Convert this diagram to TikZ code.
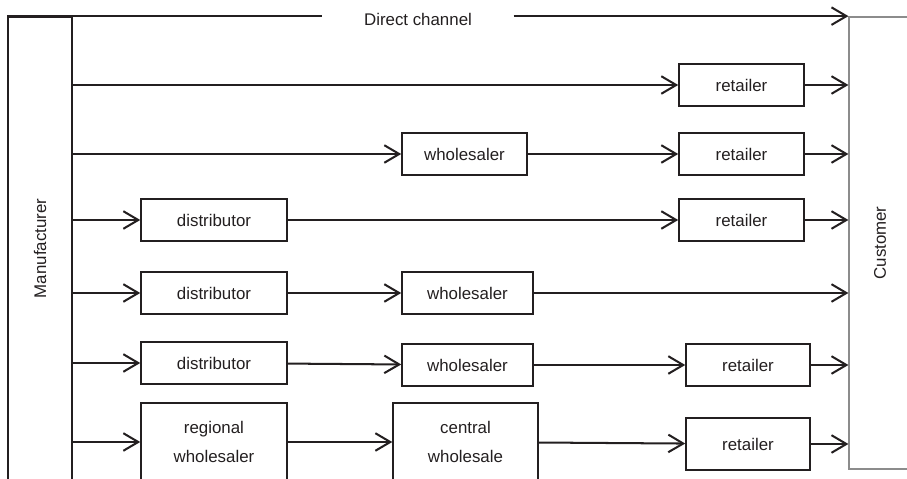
\documentclass[tikz,border=0pt]{standalone}
\usepackage{fontspec}
\setmainfont{Liberation Sans}
\usetikzlibrary{arrows.meta}
\definecolor{linedark}{RGB}{35,31,32}
\definecolor{custgray}{RGB}{140,140,140}

\begin{document}
\begin{tikzpicture}[x=0.02cm, y=-0.02cm, linedark, line width=1.15pt,
    every node/.style={font=\fontsize{9.6}{16}\selectfont},
    flow/.style={-{Straight Barb[length=8.5pt,width=10pt]}},
    stage/.style={draw, rectangle, inner sep=0pt, align=center, minimum height=23.8pt}]
    \useasboundingbox (0,0) rectangle (907,479);
    \clip (0,0) rectangle (907,479);
    % Ends of the chain
    \node[draw, line width=0.85pt, inner sep=0pt, minimum width=36.3pt, minimum height=263.6pt] (man) at (40,248.5) {\rotatebox{90}{Manufacturer}};
    \node[draw=custgray, line width=0.85pt, inner sep=0pt, minimum width=35.1pt, minimum height=257.4pt] (cust) at (880,243) {\rotatebox{90}{Customer}};
    % Direct channel
    \node[inner sep=0pt, minimum width=107.7pt] (direct) at (418,19) {Direct channel};
    \draw[line width=0.85pt] (man.north west) -- (direct.west |- man.north);
    \draw[flow] (direct.east |- cust.north) -- (cust.north west);
    % Intermediaries
    \node[stage, minimum width=70.9pt] (ret1) at (741.5,85) {retailer};
    \node[stage, minimum width=70.9pt] (whl2) at (464.5,154) {wholesaler};
    \node[stage, minimum width=70.9pt] (ret2) at (741.5,154) {retailer};
    \node[stage, minimum width=82.8pt] (dst3) at (214,220) {distributor};
    \node[stage, minimum width=70.9pt] (ret3) at (741.5,220) {retailer};
    \node[stage, minimum width=82.8pt] (dst4) at (214,293) {distributor};
    \node[stage, minimum width=74.3pt] (whl4) at (467.5,293) {wholesaler};
    \node[stage, minimum width=82.8pt] (dst5) at (214,363) {distributor};
    \node[stage, minimum width=74.3pt] (whl5) at (467.5,365) {wholesaler};
    \node[stage, minimum width=70.3pt] (ret5) at (748,365) {retailer};
    \node[stage, minimum width=82.8pt, minimum height=44.2pt] (reg6) at (214,442) {regional\\wholesaler};
    \node[stage, minimum width=82.2pt, minimum height=44.2pt] (cen6) at (465.5,442) {central\\wholesale};
    \node[stage, minimum width=70.3pt, minimum height=29.5pt] (ret6) at (748,444) {retailer};
    % Channels
    \draw[flow] (man.east |- ret1) -- (ret1);
    \draw[flow] (ret1) -- (cust.west |- ret1);
    \draw[flow] (man.east |- whl2) -- (whl2);
    \draw[flow] (whl2) -- (ret2);
    \draw[flow] (ret2) -- (cust.west |- ret2);
    \draw[flow] (man.east |- dst3) -- (dst3);
    \draw[flow] (dst3) -- (ret3);
    \draw[flow] (ret3) -- (cust.west |- ret3);
    \draw[flow] (man.east |- dst4) -- (dst4);
    \draw[flow] (dst4) -- (whl4);
    \draw[flow] (whl4) -- (cust.west |- whl4);
    \draw[flow] (man.east |- dst5) -- (dst5);
    \draw[flow] (dst5) -- (whl5);
    \draw[flow] (whl5) -- (ret5);
    \draw[flow] (ret5) -- (cust.west |- ret5);
    \draw[flow] (man.east |- reg6) -- (reg6);
    \draw[flow] (reg6) -- (cen6);
    \draw[flow] (cen6) -- (ret6);
    \draw[flow] (ret6) -- (cust.west |- ret6);
\end{tikzpicture}
\end{document}
